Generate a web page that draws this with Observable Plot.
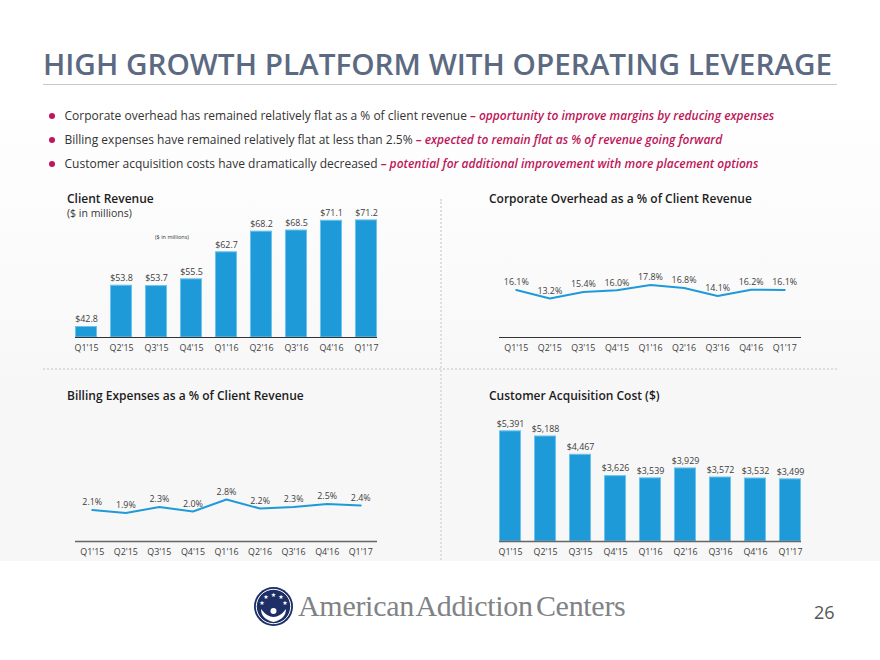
<!DOCTYPE html>
<html>
<head>
<meta charset="utf-8">
<script src="https://cdn.jsdelivr.net/npm/d3@7"></script>
<script src="https://cdn.jsdelivr.net/npm/@observablehq/plot@0.6"></script>
<style>
html,body{margin:0;padding:0;background:#fff;}
#page{position:relative;width:880px;height:660px;overflow:hidden;font-family:"Open Sans",sans-serif;background:#fff;}
#bg{position:absolute;left:0;top:0;width:880px;height:561px;background:linear-gradient(#ffffff 0,#ffffff 90px,#f7f7f7 400px,#f7f7f7 561px);}
.abs{position:absolute;white-space:nowrap;}
h1{position:absolute;margin:0;left:43px;top:44px;font-size:29.7px;line-height:40px;font-weight:600;color:#5b6a82;white-space:nowrap;}
.rule{position:absolute;left:43px;top:84px;width:794px;height:1px;background:#c9c9c9;}
.bullet{position:absolute;left:49px;width:6px;height:6px;border-radius:50%;background:#bd1759;}
.bt{position:absolute;left:64.5px;font-size:12px;line-height:16px;color:#333;white-space:nowrap;}
.bt i{color:#bd1759;font-weight:600;}
.ct{position:absolute;font-size:12px;line-height:14px;font-weight:600;color:#1c1c1c;white-space:nowrap;}
.plot{position:absolute;}
.hd{position:absolute;left:43px;top:368px;width:794px;border-top:2px dotted #dedede;}
.vd{position:absolute;left:440px;top:199px;height:361px;border-left:2px dotted #dedede;}
#logoName{position:absolute;left:298px;top:586px;font-family:"Liberation Serif",serif;font-size:30px;line-height:40px;color:#808386;white-space:nowrap;letter-spacing:-0.3px;word-spacing:-4px;}
#pageNo{position:absolute;left:814px;top:600px;font-size:18px;line-height:24px;color:#555;}
</style>
</head>
<body>
<div id="page">
  <div id="bg"></div>
  <h1>HIGH GROWTH PLATFORM WITH OPERATING LEVERAGE</h1>
  <div class="rule"></div>
  <div class="bullet" style="top:113px"></div>
  <div class="bt" style="top:108px">Corporate overhead has remained relatively flat as a % of client revenue <i>– opportunity to improve margins by reducing expenses</i></div>
  <div class="bullet" style="top:137px"></div>
  <div class="bt" style="top:132px">Billing expenses have remained relatively flat at less than 2.5% <i>– expected to remain flat as % of revenue going forward</i></div>
  <div class="bullet" style="top:161px"></div>
  <div class="bt" style="top:156px">Customer acquisition costs have dramatically decreased <i>– potential for additional improvement with more placement options</i></div>
  <div class="hd"></div>
  <div class="vd"></div>
  <div class="ct" style="left:67px;top:192px">Client Revenue</div>
  <div class="abs" style="left:67px;top:207px;font-size:10.5px;line-height:13px;color:#333">($ in millions)</div>
  <div class="abs" style="left:155px;top:232px;font-size:5.5px;line-height:10px;color:#333">($ in millions)</div>
  <div class="ct" style="left:489px;top:192px">Corporate Overhead as a % of Client Revenue</div>
  <div class="ct" style="left:67px;top:389px">Billing Expenses as a % of Client Revenue</div>
  <div class="ct" style="left:489px;top:389px">Customer Acquisition Cost ($)</div>
  <svg class="abs" style="left:253px;top:586px" width="41" height="41" viewBox="0 0 41 41">
    <circle cx="20.5" cy="20.5" r="19.5" fill="#1d2f66"/>
    <circle cx="20.5" cy="20.5" r="17.2" fill="none" stroke="#fff" stroke-width="1"/>
    <g fill="#fff" font-size="6" text-anchor="middle" font-family="DejaVu Sans">
      <text x="20.5" y="11">★</text><text x="13" y="13">★</text><text x="28" y="13">★</text><text x="9" y="19">★</text><text x="32" y="19">★</text>
    </g>
    <path d="M8 23 Q14 31 20.5 31 Q27 31 33 23 Q33 33 20.5 36 Q8 33 8 23Z" fill="#fff"/>
    <circle cx="20.5" cy="25" r="3" fill="#fff"/>
  </svg>
  <div id="logoName">American Addiction Centers</div>
  <div id="pageNo">26</div>
</div>
<script>
const quarters = ["Q1'15","Q2'15","Q3'15","Q4'15","Q1'16","Q2'16","Q3'16","Q4'16","Q1'17"];
const clientRevenue = [42.8,53.8,53.7,55.5,62.7,68.2,68.5,71.1,71.2];
const corporateOverhead = [16.1,13.2,15.4,16.0,17.8,16.8,14.1,16.2,16.1];
const billingExpenses = [2.1,1.9,2.3,2.0,2.8,2.2,2.3,2.5,2.4];
const acquisitionCost = [5391,5188,4467,3626,3539,3929,3572,3532,3499];

const BLUE = "#1f9ad9", EDGE = "#6cc3ec", INK = "#3d3d3d", FONT = "'Open Sans',sans-serif";
const page = document.getElementById("page");

function rows(values){ return quarters.map((q,i)=>({q, v:values[i]})); }

function panel({values, kind, domain, format, left, top, width, height, marginLeft, marginRight, marginTop, axisColor, axisWidth}){
  const data = rows(values);
  const base = domain[0];
  const marks = [];
  if(kind === "bar"){
    marks.push(Plot.barY(data,{x:"q",y1:()=>base,y2:"v",fill:BLUE,stroke:EDGE,strokeWidth:1,insetLeft:0.5,insetRight:0.5}));
  } else {
    marks.push(Plot.line(data,{x:"q",y:"v",stroke:BLUE,strokeWidth:2,curve:"linear"}));
  }
  marks.push(Plot.ruleY([base],{stroke:axisColor,strokeWidth:axisWidth}));
  marks.push(Plot.text(data,{x:"q",y:"v",text:d=>format(d.v),dy:-7.5,fontSize:8.9,fill:INK,fontFamily:FONT}));
  const chart = Plot.plot({
    width, height, marginLeft, marginRight, marginTop, marginBottom:24,
    style:{background:"transparent",fontFamily:FONT,fontSize:"8.9px",color:INK,overflow:"visible"},
    x:{domain:quarters,type:"band",label:null,tickSize:0,tickPadding:7,round:false,
       paddingInner:kind==="bar"?0.37:0,paddingOuter:0,align:0.5},
    y:{domain,axis:null,label:null},
    marks
  });
  chart.classList.add("plot");
  chart.style.position="absolute";
  chart.style.left=left+"px";
  chart.style.top=top+"px";
  page.appendChild(chart);
}

const dollars1 = v=>"$"+v.toFixed(1);
const pct = v=>v.toFixed(1)+"%";
const dollars0 = v=>"$"+d3.format(",")(v);

panel({values:clientRevenue,kind:"bar",domain:[40,73.3],format:dollars1,left:0,top:200,width:420,height:161,marginLeft:75,marginRight:43,marginTop:12,axisColor:"#333",axisWidth:1});
panel({values:corporateOverhead,kind:"line",domain:[0,20],format:pct,left:440,top:200,width:420,height:161,marginLeft:59,marginRight:59,marginTop:78,axisColor:"#333",axisWidth:1});
panel({values:billingExpenses,kind:"line",domain:[0,3],format:pct,left:0,top:400,width:420,height:165,marginLeft:75,marginRight:43,marginTop:96,axisColor:"#666",axisWidth:1.6});
panel({values:acquisitionCost,kind:"bar",domain:[1050,5700],format:dollars0,left:440,top:400,width:420,height:165,marginLeft:59,marginRight:59,marginTop:23,axisColor:"#666",axisWidth:1.6});
</script>
</body>
</html>
